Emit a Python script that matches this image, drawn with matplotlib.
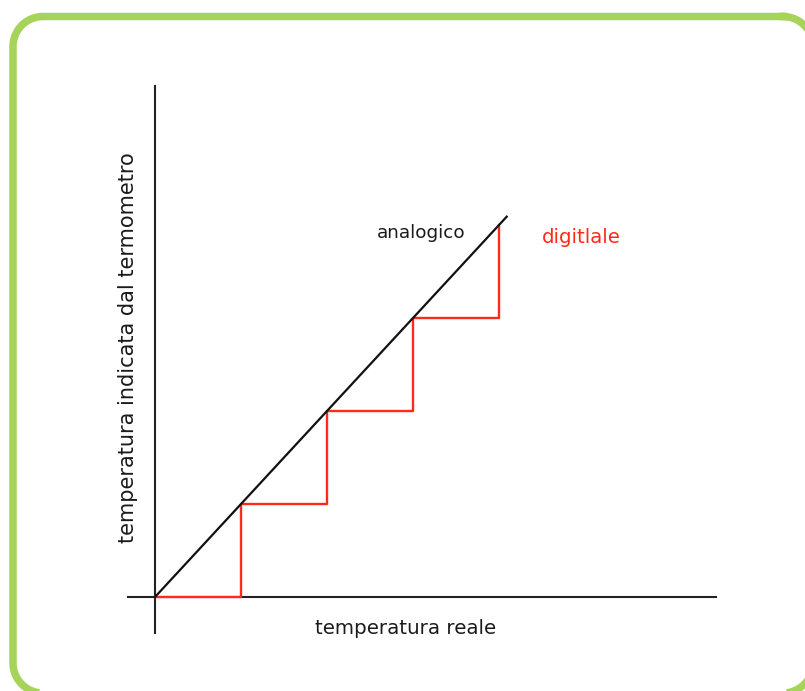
"""Analog vs digital thermometer reading: straight line vs staircase."""

import matplotlib.pyplot as plt
import matplotlib.transforms as mtransforms
import numpy as np
from matplotlib.lines import Line2D

W, H = 805, 691
DPI = 100

# data units: one step of the staircase
STEP_X_PX = 86.0
STEP_Y_PX = 93.0
ORIGIN_PX = (155, 597)

# analog reading: indicated = real
analog_x = [0.0, 4.09]
analog_y = [0.0, 4.09]

# digital reading: staircase
digital_x = [0, 1, 1, 2, 2, 3, 3, 4, 4]
digital_y = [0, 0, 1, 1, 2, 2, 3, 3, 4]

# axis extents (data units)
xaxis_span = (-0.31, 6.52)
yaxis_span = (-0.39, 5.49)

GREEN = "#a6d45a"
RED = "#ff2a1a"
INK = "#1a1a1a"

fig = plt.figure(figsize=(W / DPI, H / DPI), dpi=DPI)
fig.patch.set_facecolor("white")


def rounded_rect(l, t, r, b, rad, n=24):
    """Closed polyline of a rounded rectangle (pixel coords, y down)."""
    pts = []
    corners = [(r - rad, t + rad, -90, 0), (r - rad, b - rad, 0, 90),
               (l + rad, b - rad, 90, 180), (l + rad, t + rad, 180, 270)]
    for cx, cy, a0, a1 in corners:
        th = np.radians(np.linspace(a0, a1, n))
        pts.extend(zip(cx + rad * np.cos(th), cy + rad * np.sin(th)))
    pts.append(pts[0])
    return np.array(pts)


# rounded green frame, drawn in image-pixel coords (y down);
# right and bottom sides run off the picture like in the original
px = mtransforms.Affine2D().scale(1 / W, -1 / H).translate(0, 1) + fig.transFigure
fr = rounded_rect(13, 16.5, 813, 693, 30)
fig.lines.append(Line2D(fr[:, 0], fr[:, 1], transform=px, color=GREEN,
                        lw=5.4, solid_joinstyle="round", zorder=5))

ax = fig.add_axes([0, 0, 1, 1])
ax.set_xlim(-ORIGIN_PX[0] / STEP_X_PX, (W - ORIGIN_PX[0]) / STEP_X_PX)
ax.set_ylim(-(H - ORIGIN_PX[1]) / STEP_Y_PX, ORIGIN_PX[1] / STEP_Y_PX)
ax.axis("off")

# axes lines
ax.plot(xaxis_span, [0, 0], color="#222222", lw=1.5)
ax.plot([0, 0], yaxis_span, color="#222222", lw=1.5)

ax.plot(analog_x, analog_y, color="#111111", lw=1.6, zorder=3)
ax.plot(digital_x, digital_y, color=RED, lw=1.7, zorder=2)

font = "DejaVu Sans"
ax.text((406 - 155) / STEP_X_PX, (597 - 629) / STEP_Y_PX, "temperatura reale",
        ha="center", va="center", fontsize=14.3, family=font, color=INK)
ax.text((128 - 155) / STEP_X_PX, (597 - 348) / STEP_Y_PX,
        "temperatura indicata dal termometro", rotation=90,
        ha="center", va="center", fontsize=15, family=font, color=INK)
ax.text((421 - 155) / STEP_X_PX, (597 - 233) / STEP_Y_PX, "analogico",
        ha="center", va="center", fontsize=13.2, family=font, color=INK)
ax.text((581 - 155) / STEP_X_PX, (597 - 238) / STEP_Y_PX, "digitlale",
        ha="center", va="center", fontsize=14.2, family=font, color=RED)

fig.savefig("out.png", dpi=DPI)
